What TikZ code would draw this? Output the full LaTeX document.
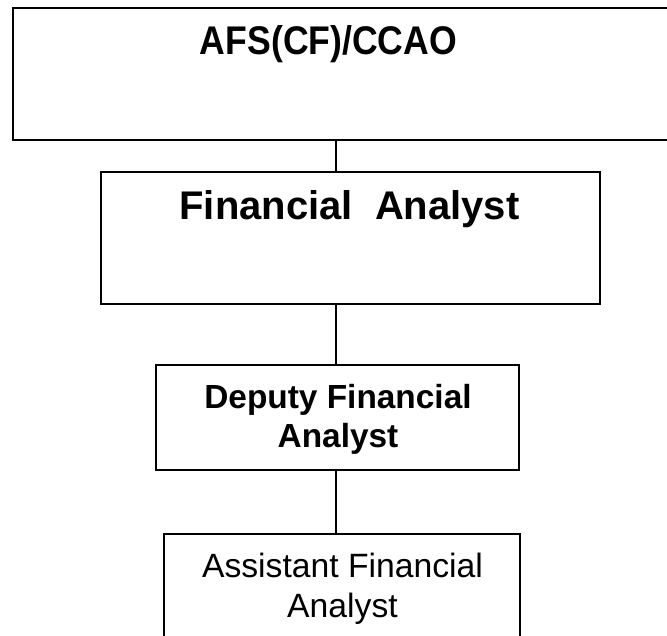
\documentclass[tikz,border=0pt]{standalone}
\usepackage{fontspec}
\setmainfont{Liberation Sans}
\begin{document}
\begin{tikzpicture}[x=1pt,y=-1pt,
  box/.style={draw=black,line width=1.8pt,rectangle,inner sep=0pt,anchor=north west},
  big/.style={font=\fontsize{40}{48}\selectfont\bfseries,inner sep=0pt,anchor=base},
  mid/.style={font=\fontsize{33.4}{39}\selectfont\bfseries,inner sep=0pt,anchor=base},
  small/.style={font=\fontsize{33.7}{40}\selectfont,inner sep=0pt,anchor=base},
  link/.style={draw=black,line width=1.8pt}]
\useasboundingbox (0,0) rectangle (667,636);
\clip (0,0) rectangle (667,636);
\fill[white] (0,0) rectangle (667,636);

% boxes
\node[box,minimum width=666pt,minimum height=132pt] (top) at (12,7) {};
\node[box,minimum width=499pt,minimum height=132pt] (fa) at (100,171) {};
\node[box,minimum width=363pt,minimum height=105pt] (dfa) at (155,364) {};
\node[box,minimum width=356pt,minimum height=130pt] (afa) at (163,533) {};

% titles
\node[big] (topT) at (328.5,55) {\scalebox{0.89}[1]{AFS(CF)/CCAO}};
\node[big] (faT) at (349.5,220) {Financial\ \ Analyst};
\node[mid] (dfaT1) at (338,408) {Deputy Financial};
\node[mid] (dfaT2) at (338,447) {Analyst};
\node[small] (afaT1) at (342.5,577) {Assistant Financial};
\node[small] (afaT2) at (342.5,617) {Analyst};

% reporting line
\coordinate (spine) at (336,0);
\draw[link] (top.south -| spine) -- (fa.north -| spine);
\draw[link] (fa.south -| spine) -- (dfa.north -| spine);
\draw[link] (dfa.south -| spine) -- (afa.north -| spine);
\end{tikzpicture}
\end{document}
